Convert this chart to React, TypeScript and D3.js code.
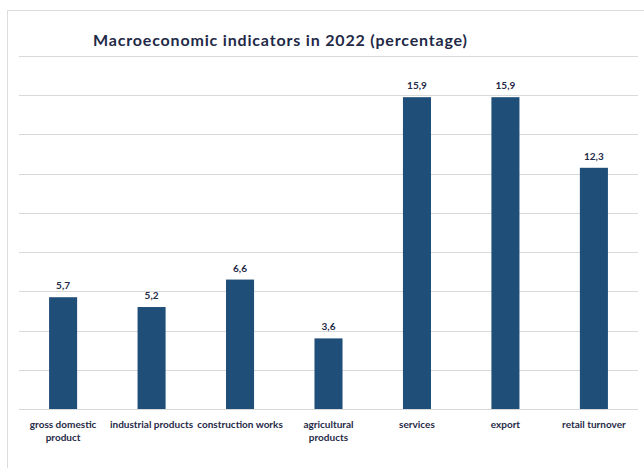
import React from "react";
import * as d3 from "d3";

const categories: string[] = [
  "gross domestic\nproduct",
  "industrial products",
  "construction works",
  "agricultural\nproducts",
  "services",
  "export",
  "retail turnover",
];
const values: number[] = [5.7, 5.2, 6.6, 3.6, 15.9, 15.9, 12.3];
const yDomain: [number, number] = [0, 18];
const gridTicks: number[] = [0, 2, 4, 6, 8, 10, 12, 14, 16, 18];
const title = "Macroeconomic indicators in 2022 (percentage)";

const W = 644;
const H = 468;
const left = 19;
const right = 638;
const top = 56;
const bottom = 409;
const textColor = "#1f2a47";
const barColor = "#1f4e79";
const gridColor = "#d9d9d9";
const font = "Lato, 'Open Sans', sans-serif";

export default function App() {
  const x = d3
    .scaleBand<string>()
    .domain(categories)
    .range([left, right])
    .paddingInner(0.683)
    .paddingOuter(0.34);
  const y = d3.scaleLinear().domain(yDomain).range([bottom, top]);
  const fmt = (v: number) => d3.format(".1f")(v).replace(".", ",");

  return (
    <svg
      width={W}
      height={H}
      style={{ position: "absolute", left: 0, top: 0, background: "#fff" }}
    >
      <rect x={0} y={0} width={W} height={H} fill="#fff" />
      {/* frame */}
      <line x1={7.5} y1={10.5} x2={W} y2={10.5} stroke="#dcdcdc" strokeWidth={1} />
      <line x1={7.5} y1={10.5} x2={7.5} y2={H} stroke="#dcdcdc" strokeWidth={1} />
      {/* title */}
      <text
        x={280}
        y={45.5}
        textAnchor="middle"
        fontFamily={font}
        fontWeight={700}
        fontSize={16}
        textLength={374}
        lengthAdjust="spacing"
        fill={textColor}
      >
        {title}
      </text>
      {/* gridlines */}
      {gridTicks.map((t) => (
        <line
          key={t}
          x1={left}
          x2={right}
          y1={Math.round(y(t)) + 0.5}
          y2={Math.round(y(t)) + 0.5}
          stroke={gridColor}
          strokeWidth={1}
        />
      ))}
      {/* bars */}
      {categories.map((c, i) => (
        <rect
          key={c}
          x={x(c)}
          y={y(values[i])}
          width={x.bandwidth()}
          height={y(0) - y(values[i])}
          fill={barColor}
        />
      ))}
      {/* value labels */}
      {categories.map((c, i) => (
        <text
          key={c}
          x={(x(c) as number) + x.bandwidth() / 2}
          y={y(values[i]) - 8}
          textAnchor="middle"
          fontFamily={font}
          fontWeight={700}
          fontSize={10}
          fill={textColor}
        >
          {fmt(values[i])}
        </text>
      ))}
      {/* category labels */}
      {categories.map((c) => (
        <text
          key={c}
          x={(x(c) as number) + x.bandwidth() / 2}
          y={427.5}
          textAnchor="middle"
          fontFamily={font}
          fontWeight={700}
          fontSize={10}
          fill={textColor}
        >
          {c.split("\n").map((line, j) => (
            <tspan key={j} x={(x(c) as number) + x.bandwidth() / 2} dy={j === 0 ? 0 : 13}>
              {line}
            </tspan>
          ))}
        </text>
      ))}
    </svg>
  );
}
